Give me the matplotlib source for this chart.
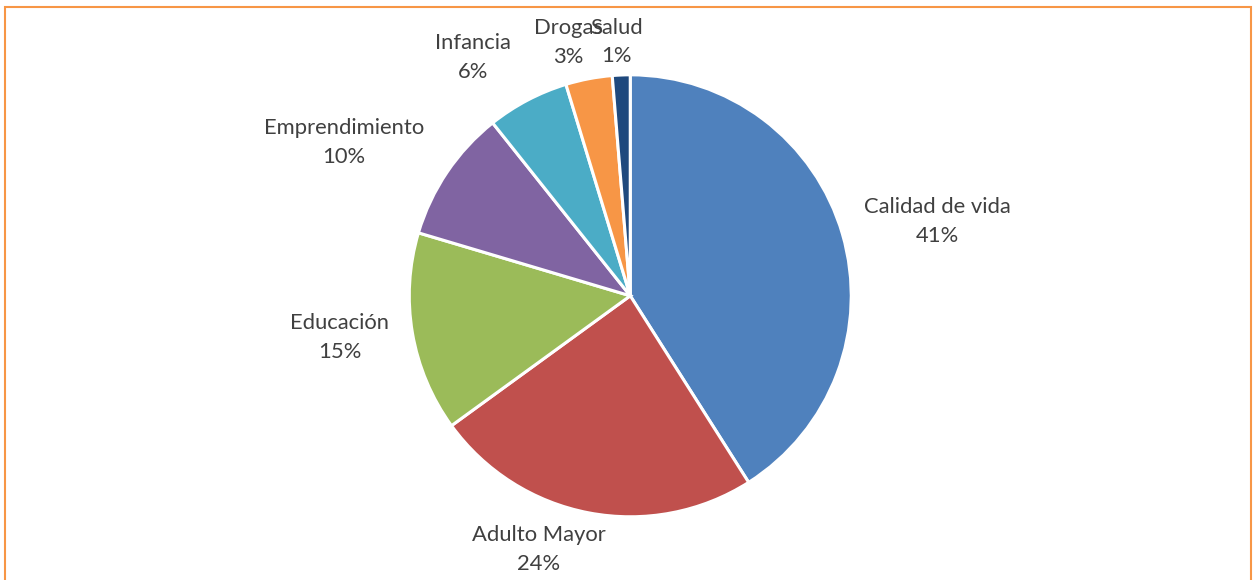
import numpy as np
import matplotlib.pyplot as plt
from matplotlib.patches import Rectangle

# Data (percent of total)
categories = ['Calidad de vida', 'Adulto Mayor', 'Educación', 'Emprendimiento',
              'Infancia', 'Drogas', 'Salud']
values = [41.0, 24.0, 14.6, 9.7, 6.0, 3.4, 1.3]
colors = ['#4F81BD', '#C0504D', '#9BBB59', '#8064A2', '#4BACC6', '#F79646', '#1F497D']

# label distance (in radii) and angle tweak (deg) per slice, Excel-like placement
label_dist = [1.43, 1.22, 1.33, 1.47, 1.29, 1.18, 1.15]
label_shift = [-2.6, -9, -1.5, 5.9, 5.7, 3, 0.7]

plt.rcParams['font.family'] = ['Lato', 'DejaVu Sans']

fig = plt.figure(figsize=(12.53, 5.8), dpi=100)
ax = fig.add_axes([0.503 - 0.381 * 580 / 1253, 0.49 - 0.381, 0.762 * 580 / 1253, 0.762])

wedges, _ = ax.pie(values, colors=colors, startangle=90, counterclock=False,
                   wedgeprops=dict(edgecolor='white', linewidth=2.2))
ax.set_xlim(-1, 1)
ax.set_ylim(-1, 1)
ax.set_aspect('equal')

total = sum(values)
for i, w in enumerate(wedges):
    mid = np.deg2rad((w.theta1 + w.theta2) / 2 + label_shift[i])
    d = label_dist[i]
    pct = int(round(values[i] / total * 100))
    ax.text(d * np.cos(mid), d * np.sin(mid), f'{categories[i]}\n{pct}%',
            ha='center', va='center', fontsize=15.8, color='#404040',
            linespacing=1.55, clip_on=False)

# orange frame around the chart area
fig.patches.append(Rectangle((5 / 1253, -0.05), 1246 / 1253, 1.05 - 7 / 580,
                             transform=fig.transFigure, fill=False,
                             edgecolor='#F79646', linewidth=1.5))

fig.savefig('out.png', dpi=100)
